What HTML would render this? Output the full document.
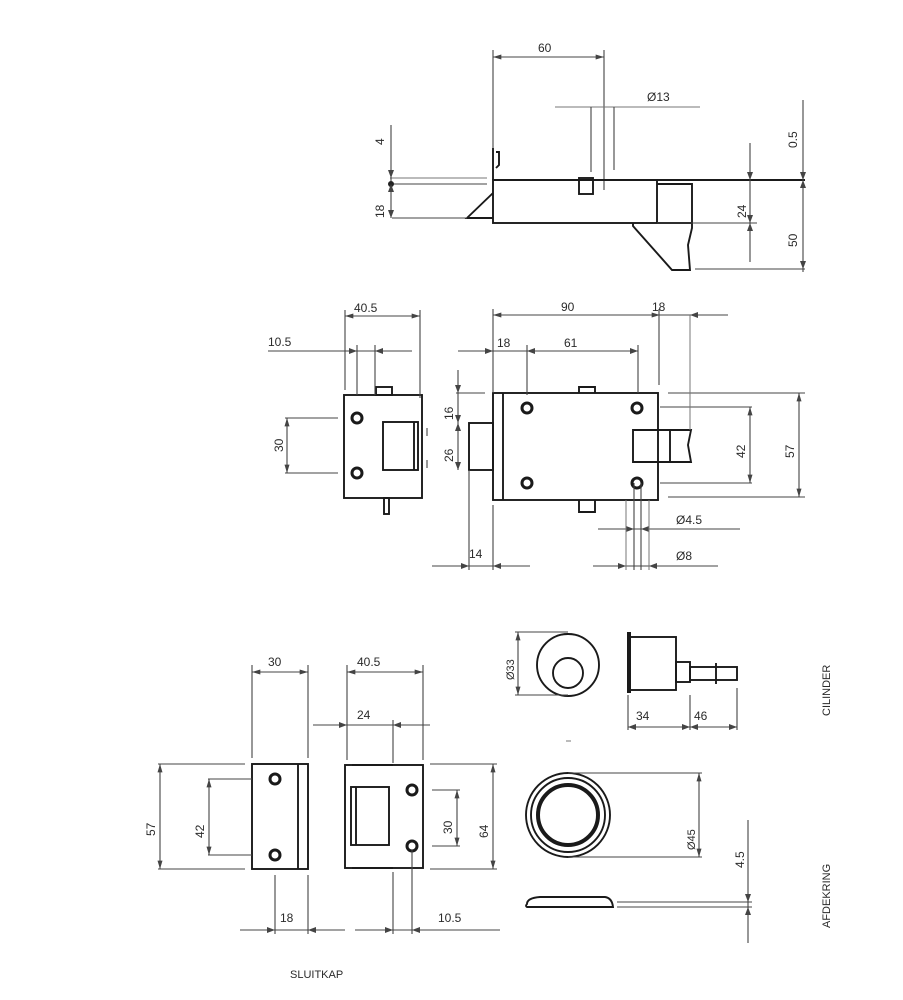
<!DOCTYPE html>
<html><head><meta charset="utf-8"><style>
html,body{margin:0;padding:0;background:#fff;}
svg{display:block;}
text{font-family:"Liberation Sans",sans-serif;font-size:12px;fill:#2a2a2a;}
.o{stroke:#1a1a1a;stroke-width:1.9;fill:none;}
.t{stroke:#444;stroke-width:1.1;fill:none;}
.e{stroke:#777;stroke-width:1;fill:none;}
</style></head><body>
<svg width="903" height="1000" viewBox="0 0 903 1000" xmlns="http://www.w3.org/2000/svg">
<defs>
<marker id="a" viewBox="0 0 10 6" refX="10" refY="3" markerWidth="9" markerHeight="5" orient="auto-start-reverse" markerUnits="userSpaceOnUse"><path d="M0,0 L10,3 L0,6z" fill="#444"/></marker>
</defs>

<!-- ===== TOP VIEW ===== -->
<g>
<line class="t" x1="493" y1="57" x2="604" y2="57" marker-start="url(#a)" marker-end="url(#a)"/>
<line class="t" x1="493" y1="50" x2="493" y2="148"/>
<line class="t" x1="604" y1="50" x2="604" y2="190"/>
<text x="538" y="52">60</text>
<line class="e" x1="555" y1="107" x2="700" y2="107"/>
<line class="t" x1="591" y1="107" x2="591" y2="172"/>
<line class="t" x1="614" y1="107" x2="614" y2="170"/>
<text x="647" y="101">Ø13</text>
<line class="o" x1="493" y1="180" x2="805" y2="180"/>
<rect class="o" x="493" y="180" width="164" height="43"/>
<path class="o" d="M493,148 L493,180" stroke-width="3"/>
<path class="o" d="M496,152 L499,152 L499,165 L496,168"/>
<path class="o" d="M493,193 L467,218 L493,218"/>
<rect class="o" x="579" y="178" width="14" height="16"/>
<path class="o" d="M657,184 L692,184 L692,228 L688,245 L690,270 L672,270 L633,226 L633,223"/>
<line class="o" x1="657" y1="223" x2="692" y2="223"/>
<line class="e" x1="390" y1="178" x2="487" y2="178"/>
<line class="t" x1="390" y1="184" x2="487" y2="184"/>
<line class="t" x1="392" y1="218" x2="467" y2="218"/>
<line class="t" x1="391" y1="125" x2="391" y2="218" />
<circle cx="391" cy="184" r="3" fill="#222"/>
<path d="M388,170 L391,178 L394,170z M388,210 L391,218 L394,210z M388,192 L391,184 L394,192z" fill="#444"/>
<text transform="translate(384,145) rotate(-90)">4</text>
<text transform="translate(384,218) rotate(-90)">18</text>
<line class="t" x1="657" y1="223" x2="757" y2="223"/>
<line class="t" x1="695" y1="269" x2="805" y2="269"/>
<line class="t" x1="750" y1="143" x2="750" y2="262"/>
<path d="M747,172 L750,180 L753,172z M747,231 L750,223 L753,231z M747,215 L750,223 L753,215z" fill="#444"/>
<text transform="translate(746,218) rotate(-90)">24</text>
<line class="t" x1="803" y1="100" x2="803" y2="272"/>
<path d="M800,172 L803,180 L806,172z M800,261 L803,269 L806,261z M800,188 L803,180 L806,188z" fill="#444"/>
<text transform="translate(797,148) rotate(-90)">0.5</text>
<text transform="translate(797,247) rotate(-90)">50</text>
</g>

<!-- ===== MIDDLE ===== -->
<g>
<rect class="o" x="344" y="395" width="78" height="103"/>
<rect class="o" x="383" y="422" width="35" height="48"/>
<line class="o" x1="414" y1="422" x2="414" y2="470"/>
<rect class="o" x="376" y="387" width="16" height="8"/>
<rect class="o" x="384" y="498" width="5" height="16"/>
<line class="t" x1="427" y1="428" x2="427" y2="436"/>
<line class="t" x1="427" y1="460" x2="427" y2="468"/>
<circle cx="357" cy="418" r="5" fill="none" stroke="#1a1a1a" stroke-width="3"/>
<circle cx="357" cy="473" r="5" fill="none" stroke="#1a1a1a" stroke-width="3"/>
<line class="t" x1="345" y1="316" x2="420" y2="316" marker-start="url(#a)" marker-end="url(#a)"/>
<line class="t" x1="345" y1="310" x2="345" y2="390"/>
<line class="t" x1="420" y1="310" x2="420" y2="398"/>
<text x="354" y="312">40.5</text>
<line class="t" x1="268" y1="351" x2="412" y2="351"/>
<path d="M349,348 L357,351 L349,354z M383,348 L375,351 L383,354z" fill="#444"/>
<line class="t" x1="357" y1="345" x2="357" y2="395"/>
<line class="t" x1="375" y1="345" x2="375" y2="395"/>
<text x="268" y="346">10.5</text>
<line class="t" x1="285" y1="418" x2="338" y2="418"/>
<line class="t" x1="285" y1="473" x2="338" y2="473"/>
<line class="t" x1="287" y1="418" x2="287" y2="473" marker-start="url(#a)" marker-end="url(#a)"/>
<text transform="translate(283,452) rotate(-90)">30</text>

<rect class="o" x="493" y="393" width="165" height="107"/>
<line class="o" x1="503" y1="393" x2="503" y2="500"/>
<rect class="o" x="469" y="423" width="24" height="47"/>
<path class="o" d="M579,393 L579,387 L595,387 L595,393"/>
<path class="o" d="M579,500 L579,512 L595,512 L595,500"/>
<circle cx="527" cy="408" r="5" fill="none" stroke="#1a1a1a" stroke-width="3"/>
<circle cx="637" cy="408" r="5" fill="none" stroke="#1a1a1a" stroke-width="3"/>
<circle cx="527" cy="483" r="5" fill="none" stroke="#1a1a1a" stroke-width="3"/>
<circle cx="637" cy="483" r="5" fill="none" stroke="#1a1a1a" stroke-width="3"/>
<path class="o" d="M633,430 L691,430 L688,445 L691,462 L633,462z"/>
<line class="o" x1="670" y1="430" x2="670" y2="462"/>
<line class="t" x1="668" y1="393" x2="805" y2="393"/>
<line class="t" x1="660" y1="407" x2="752" y2="407"/>
<line class="t" x1="660" y1="483" x2="752" y2="483"/>
<line class="t" x1="668" y1="497" x2="805" y2="497"/>
<line class="t" x1="750" y1="407" x2="750" y2="483" marker-start="url(#a)" marker-end="url(#a)"/>
<line class="t" x1="799" y1="393" x2="799" y2="497" marker-start="url(#a)" marker-end="url(#a)"/>
<text transform="translate(745,458) rotate(-90)">42</text>
<text transform="translate(794,458) rotate(-90)">57</text>
<line class="t" x1="493" y1="315" x2="660" y2="315" marker-start="url(#a)" marker-end="url(#a)"/>
<line class="t" x1="660" y1="315" x2="728" y2="315"/>
<path d="M698,312 L690,315 L698,318z" fill="#444"/>
<line class="t" x1="493" y1="309" x2="493" y2="393"/>
<line class="t" x1="659" y1="309" x2="659" y2="385"/>
<line class="e" x1="690" y1="315" x2="690" y2="430"/>
<text x="561" y="311">90</text>
<text x="652" y="311">18</text>
<line class="t" x1="458" y1="351" x2="638" y2="351"/>
<path d="M485,348 L493,351 L485,354z M535,348 L527,351 L535,354z M630,348 L638,351 L630,354z" fill="#444"/>
<line class="t" x1="527" y1="345" x2="527" y2="395"/>
<line class="t" x1="638" y1="345" x2="638" y2="393"/>
<text x="497" y="347">18</text>
<text x="564" y="347">61</text>
<line class="t" x1="458" y1="370" x2="458" y2="470"/>
<line class="t" x1="456" y1="393" x2="485" y2="393"/>
<path d="M455,385 L458,393 L461,385z M455,431 L458,423 L461,431z M455,415 L458,423 L461,415z M455,462 L458,470 L461,462z" fill="#444"/>
<text transform="translate(453,420) rotate(-90)">16</text>
<text transform="translate(453,462) rotate(-90)">26</text>
<line class="t" x1="432" y1="566" x2="530" y2="566"/>
<path d="M461,563 L469,566 L461,569z M501,563 L493,566 L501,569z" fill="#444"/>
<line class="t" x1="469" y1="470" x2="469" y2="570"/>
<line class="t" x1="493" y1="505" x2="493" y2="570"/>
<text x="469" y="558">14</text>
<line class="t" x1="634" y1="483" x2="634" y2="570"/>
<line class="t" x1="641" y1="483" x2="641" y2="570"/>
<line class="t" x1="598" y1="529" x2="740" y2="529"/>
<path d="M626,526 L634,529 L626,532z M649,526 L641,529 L649,532z" fill="#444"/>
<text x="676" y="524">Ø4.5</text>
<line class="t" x1="593" y1="566" x2="718" y2="566"/>
<path d="M618,563 L626,566 L618,569z M657,563 L649,566 L657,569z" fill="#444"/>
<line class="e" x1="626" y1="500" x2="626" y2="570"/>
<line class="e" x1="649" y1="500" x2="649" y2="570"/>
<text x="676" y="560">Ø8</text>
</g>

<!-- ===== BOTTOM LEFT ===== -->
<g>
<rect class="o" x="252" y="764" width="56" height="105"/>
<line class="o" x1="298" y1="764" x2="298" y2="869"/>
<circle cx="275" cy="779" r="5" fill="none" stroke="#1a1a1a" stroke-width="3"/>
<circle cx="275" cy="855" r="5" fill="none" stroke="#1a1a1a" stroke-width="3"/>
<line class="t" x1="252" y1="672" x2="308" y2="672" marker-start="url(#a)" marker-end="url(#a)"/>
<line class="t" x1="252" y1="665" x2="252" y2="758"/>
<line class="t" x1="308" y1="665" x2="308" y2="758"/>
<text x="268" y="666">30</text>
<line class="t" x1="158" y1="764" x2="245" y2="764"/>
<line class="t" x1="158" y1="869" x2="245" y2="869"/>
<line class="t" x1="160" y1="764" x2="160" y2="869" marker-start="url(#a)" marker-end="url(#a)"/>
<text transform="translate(155,836) rotate(-90)">57</text>
<line class="t" x1="208" y1="779" x2="252" y2="779"/>
<line class="t" x1="208" y1="855" x2="252" y2="855"/>
<line class="t" x1="209" y1="779" x2="209" y2="855" marker-start="url(#a)" marker-end="url(#a)"/>
<text transform="translate(204,838) rotate(-90)">42</text>
<line class="t" x1="240" y1="930" x2="345" y2="930"/>
<path d="M267,927 L275,930 L267,933z M316,927 L308,930 L316,933z" fill="#444"/>
<line class="t" x1="275" y1="875" x2="275" y2="934"/>
<line class="t" x1="308" y1="875" x2="308" y2="934"/>
<text x="280" y="922">18</text>

<rect class="o" x="345" y="765" width="78" height="103"/>
<line class="o" x1="352" y1="765" x2="393" y2="765" stroke-width="3"/>
<line class="o" x1="352" y1="868" x2="393" y2="868" stroke-width="3"/>
<rect class="o" x="351" y="787" width="38" height="58"/>
<line class="o" x1="356" y1="787" x2="356" y2="845"/>
<circle cx="412" cy="790" r="5" fill="none" stroke="#1a1a1a" stroke-width="3"/>
<circle cx="412" cy="846" r="5" fill="none" stroke="#1a1a1a" stroke-width="3"/>
<line class="t" x1="347" y1="672" x2="423" y2="672" marker-start="url(#a)" marker-end="url(#a)"/>
<line class="t" x1="347" y1="665" x2="347" y2="760"/>
<line class="t" x1="423" y1="665" x2="423" y2="760"/>
<text x="357" y="666">40.5</text>
<line class="t" x1="313" y1="725" x2="430" y2="725"/>
<path d="M339,722 L347,725 L339,728z M401,722 L393,725 L401,728z" fill="#444"/>
<line class="t" x1="393" y1="720" x2="393" y2="763"/>
<text x="357" y="719">24</text>
<line class="t" x1="430" y1="764" x2="497" y2="764"/>
<line class="t" x1="430" y1="869" x2="497" y2="869"/>
<line class="t" x1="493" y1="764" x2="493" y2="869" marker-start="url(#a)" marker-end="url(#a)"/>
<text transform="translate(488,838) rotate(-90)">64</text>
<line class="t" x1="432" y1="790" x2="460" y2="790"/>
<line class="t" x1="432" y1="846" x2="460" y2="846"/>
<line class="t" x1="457" y1="790" x2="457" y2="846" marker-start="url(#a)" marker-end="url(#a)"/>
<text transform="translate(452,834) rotate(-90)">30</text>
<line class="t" x1="355" y1="930" x2="500" y2="930"/>
<path d="M385,927 L393,930 L385,933z M420,927 L412,930 L420,933z" fill="#444"/>
<line class="t" x1="393" y1="872" x2="393" y2="934"/>
<line class="t" x1="412" y1="850" x2="412" y2="934"/>
<text x="438" y="922">10.5</text>
<text x="290" y="978" style="font-size:11px">SLUITKAP</text>
</g>

<!-- ===== BOTTOM RIGHT ===== -->
<g>
<circle cx="568" cy="665" r="31" class="o"/>
<circle cx="568" cy="673" r="15" class="o"/>
<line class="t" x1="515" y1="632" x2="568" y2="632"/>
<line class="t" x1="515" y1="695" x2="568" y2="695"/>
<line class="t" x1="518" y1="632" x2="518" y2="695" marker-start="url(#a)" marker-end="url(#a)"/>
<text transform="translate(514,680) rotate(-90)" style="font-size:11px">Ø33</text>
<line x1="629" y1="632" x2="629" y2="693" stroke="#1a1a1a" stroke-width="4"/>
<rect class="o" x="630" y="637" width="46" height="53"/>
<rect class="o" x="676" y="662" width="14" height="20"/>
<rect class="o" x="690" y="667" width="47" height="13"/>
<line class="o" x1="716" y1="663" x2="716" y2="684"/>
<line class="t" x1="628" y1="695" x2="628" y2="730"/>
<line class="t" x1="690" y1="695" x2="690" y2="730"/>
<line class="t" x1="737" y1="688" x2="737" y2="730"/>
<line class="t" x1="628" y1="727" x2="737" y2="727"/>
<path d="M636,724 L628,727 L636,730z M682,724 L690,727 L682,730z M698,724 L690,727 L698,730z M729,724 L737,727 L729,730z" fill="#444"/>
<text x="636" y="720">34</text>
<text x="694" y="720">46</text>
<line class="e" x1="566" y1="741" x2="571" y2="741"/>

<circle cx="568" cy="815" r="42" class="o" stroke-width="1.6"/>
<circle cx="568" cy="815" r="37" class="o" stroke-width="1.4"/>
<circle cx="568" cy="815" r="30" fill="none" stroke="#1a1a1a" stroke-width="4"/>
<line class="t" x1="568" y1="773" x2="702" y2="773"/>
<line class="t" x1="568" y1="857" x2="702" y2="857"/>
<line class="t" x1="699" y1="773" x2="699" y2="857" marker-start="url(#a)" marker-end="url(#a)"/>
<text transform="translate(695,850) rotate(-90)" style="font-size:11px">Ø45</text>
<path class="o" d="M527,904 Q527,898 540,897 L605,897 Q612,898 613,907 L527,907 Q525,906 527,904z"/>
<line class="t" x1="617" y1="902" x2="752" y2="902"/>
<line class="t" x1="617" y1="907" x2="752" y2="907"/>
<line class="t" x1="748" y1="820" x2="748" y2="943"/>
<path d="M745,894 L748,902 L751,894z M745,915 L748,907 L751,915z" fill="#444"/>
<text transform="translate(744,868) rotate(-90)">4.5</text>
<text transform="translate(830,716) rotate(-90)" style="font-size:11px">CILINDER</text>
<text transform="translate(830,928) rotate(-90)" style="font-size:11px">AFDEKRING</text>
</g>
</svg>
</body></html>
